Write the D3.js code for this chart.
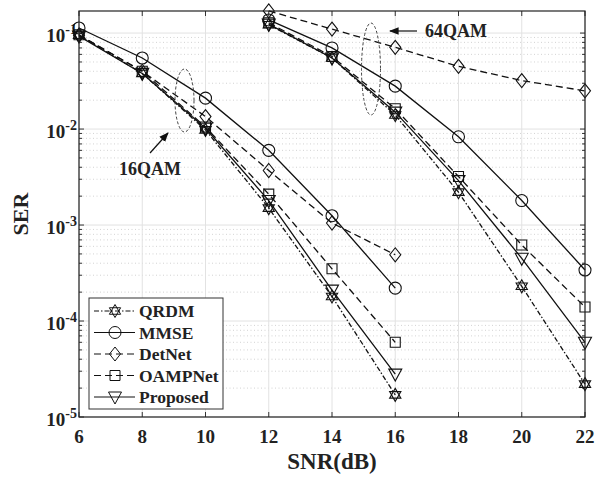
<!DOCTYPE html>
<html>
<head>
<meta charset="utf-8">
<script src="https://cdn.jsdelivr.net/npm/d3@7"></script>
<style>
  body { margin: 0; background: #fff; }
  text { font-family: "Liberation Serif", "Times New Roman", serif; font-weight: bold; fill: #222; }
</style>
</head>
<body>
<script>
// SNR points
const snr16 = [6, 8, 10, 12, 14, 16];
const snr64 = [12, 14, 16, 18, 20, 22];

// 16QAM SER
const qrdm16 = [0.095, 0.038, 0.0098, 0.0015, 1.8e-4, 1.7e-5];
const mmse16 = [0.113, 0.055, 0.021, 0.006, 0.00125, 2.2e-4];
const detnet16 = [0.095, 0.040, 0.0135, 0.0037, 0.00105, 4.9e-4];
const oamp16 = [0.096, 0.040, 0.0105, 0.0021, 3.5e-4, 6e-5];
const prop16 = [0.093, 0.038, 0.0102, 0.0018, 2.1e-4, 2.8e-5];

// 64QAM SER
const qrdm64 = [0.122, 0.055, 0.014, 0.0022, 2.3e-4, 2.2e-5];
const mmse64 = [0.137, 0.070, 0.028, 0.0083, 0.0018, 3.4e-4];
const detnet64 = [0.170, 0.110, 0.071, 0.045, 0.032, 0.025];
const oamp64 = [0.128, 0.057, 0.0163, 0.0032, 6.2e-4, 1.4e-4];
const prop64 = [0.124, 0.055, 0.0150, 0.0029, 4.5e-4, 6e-5];

const xTicks = [6, 8, 10, 12, 14, 16, 18, 20, 22];
const yDecades = [-1, -2, -3, -4, -5];
const names = ["QRDM", "MMSE", "DetNet", "OAMPNet", "Proposed"];

const width = 608, height = 477;
const pLeft = 79, pRight = 585, pTop = 11, pBottom = 417;

const x = d3.scaleLinear().domain([6, 22]).range([pLeft, pRight]);
const y = d3.scaleLog().domain([1e-5, Math.pow(10, -0.77)]).range([pBottom, pTop]);

const svg = d3.select("body").append("svg")
    .attr("width", width)
    .attr("height", height);

// grid
const grid = svg.append("g");
const minorVals = [];
for (let e = -5; e < 0; e++) {
    for (let m = 2; m <= 9; m++) {
        const v = m * Math.pow(10, e);
        if (v < y.domain()[1]) minorVals.push(v);
    }
}
grid.selectAll(".minor").data(minorVals).enter().append("line")
    .attr("x1", pLeft).attr("x2", pRight)
    .attr("y1", d => y(d)).attr("y2", d => y(d))
    .attr("stroke", "#c8c8c8").attr("stroke-width", 0.8)
    .attr("stroke-dasharray", "1,2.5");
grid.selectAll(".major").data(yDecades.map(e => Math.pow(10, e))).enter().append("line")
    .attr("x1", pLeft).attr("x2", pRight)
    .attr("y1", d => y(d)).attr("y2", d => y(d))
    .attr("stroke", "#e2e2e2").attr("stroke-width", 1);
grid.selectAll(".xg").data(xTicks).enter().append("line")
    .attr("x1", d => x(d)).attr("x2", d => x(d))
    .attr("y1", pTop).attr("y2", pBottom)
    .attr("stroke", "#e2e2e2").attr("stroke-width", 1);

// ticks (inward, all four sides)
const tk = svg.append("g").attr("stroke", "#333").attr("stroke-width", 1);
xTicks.forEach(t => {
    tk.append("line").attr("x1", x(t)).attr("x2", x(t)).attr("y1", pBottom).attr("y2", pBottom - 5);
    tk.append("line").attr("x1", x(t)).attr("x2", x(t)).attr("y1", pTop).attr("y2", pTop + 5);
});
yDecades.forEach(e => {
    const yy = y(Math.pow(10, e));
    tk.append("line").attr("x1", pLeft).attr("x2", pLeft + 5).attr("y1", yy).attr("y2", yy);
    tk.append("line").attr("x1", pRight).attr("x2", pRight - 5).attr("y1", yy).attr("y2", yy);
});
minorVals.forEach(v => {
    tk.append("line").attr("x1", pLeft).attr("x2", pLeft + 3).attr("y1", y(v)).attr("y2", y(v));
    tk.append("line").attr("x1", pRight).attr("x2", pRight - 3).attr("y1", y(v)).attr("y2", y(v));
});

// tick labels
svg.selectAll(".xl").data(xTicks).enter().append("text")
    .attr("x", d => x(d)).attr("y", 443)
    .attr("text-anchor", "middle").attr("font-size", 19)
    .text(d => d);
yDecades.forEach(e => {
    const t = svg.append("text")
        .attr("x", 77).attr("y", y(Math.pow(10, e)) + 9)
        .attr("text-anchor", "end").attr("font-size", 19);
    t.append("tspan").text("10");
    t.append("tspan").attr("dy", -8).attr("font-size", 14).text(e);
});

// axis titles
svg.append("text").attr("x", 332).attr("y", 469)
    .attr("text-anchor", "middle").attr("font-size", 23).text("SNR(dB)");
svg.append("text")
    .attr("transform", "translate(28,214) rotate(-90)")
    .attr("text-anchor", "middle").attr("font-size", 22).text("SER");

// series
const styles = [
    { dash: "5,2,1.5,2", marker: "hex" },
    { dash: null, marker: "circle" },
    { dash: "7,4", marker: "diamond" },
    { dash: "7,4", marker: "square" },
    { dash: null, marker: "tri" }
];
const series = [
    [qrdm16, qrdm64], [mmse16, mmse64], [detnet16, detnet64], [oamp16, oamp64], [prop16, prop64]
];

function markerPath(type, cx, cy) {
    const p = d3.path();
    if (type === "circle") {
        p.moveTo(cx + 6, cy); p.arc(cx, cy, 6, 0, 2 * Math.PI);
    } else if (type === "diamond") {
        p.moveTo(cx, cy - 7); p.lineTo(cx + 5.5, cy); p.lineTo(cx, cy + 7); p.lineTo(cx - 5.5, cy); p.closePath();
    } else if (type === "square") {
        p.rect(cx - 5, cy - 5, 10, 10);
    } else if (type === "tri") {
        p.moveTo(cx - 6.5, cy - 5); p.lineTo(cx + 6.5, cy - 5); p.lineTo(cx, cy + 7); p.closePath();
    } else if (type === "hex") {
        const r = 6.5;
        for (let k = 0; k < 2; k++) {
            for (let i = 0; i < 3; i++) {
                const a = -Math.PI / 2 + k * Math.PI + i * 2 * Math.PI / 3;
                const px = cx + r * Math.cos(a), py = cy + r * Math.sin(a);
                if (i === 0) p.moveTo(px, py); else p.lineTo(px, py);
            }
            p.closePath();
        }
    }
    return p.toString();
}

const line = d3.line().x(d => x(d[0])).y(d => y(d[1]));
const plot = svg.append("g");
series.forEach((pair, i) => {
    [[snr16, pair[0]], [snr64, pair[1]]].forEach(([xs, ys]) => {
        const pts = xs.map((s, j) => [s, ys[j]]);
        plot.append("path").datum(pts)
            .attr("d", line).attr("fill", "none")
            .attr("stroke", "#111").attr("stroke-width", 1.3)
            .attr("stroke-dasharray", styles[i].dash);
        plot.selectAll(null).data(pts).enter().append("path")
            .attr("d", d => markerPath(styles[i].marker, x(d[0]), y(d[1])))
            .attr("fill", "none").attr("stroke", "#111").attr("stroke-width", 1.1);
    });
});

// axes box
svg.append("rect").attr("x", pLeft).attr("y", pTop)
    .attr("width", pRight - pLeft).attr("height", pBottom - pTop)
    .attr("fill", "none").attr("stroke", "#222").attr("stroke-width", 1.2);

// annotations
svg.append("defs").append("marker")
    .attr("id", "ah").attr("viewBox", "0 0 10 10").attr("refX", 9).attr("refY", 5)
    .attr("markerWidth", 8).attr("markerHeight", 8).attr("orient", "auto")
    .append("path").attr("d", "M0,1 L10,5 L0,9 Z").attr("fill", "#111");

svg.append("ellipse").attr("cx", 184.5).attr("cy", 100.5).attr("rx", 9.5).attr("ry", 31.5)
    .attr("fill", "none").attr("stroke", "#444").attr("stroke-width", 1).attr("stroke-dasharray", "3,2");
svg.append("ellipse").attr("cx", 371).attr("cy", 69).attr("rx", 9.5).attr("ry", 46)
    .attr("fill", "none").attr("stroke", "#444").attr("stroke-width", 1).attr("stroke-dasharray", "3,2");

svg.append("line").attr("x1", 150).attr("y1", 153).attr("x2", 168).attr("y2", 133)
    .attr("stroke", "#111").attr("stroke-width", 1.2).attr("marker-end", "url(#ah)");
svg.append("text").attr("x", 150).attr("y", 175).attr("text-anchor", "middle")
    .attr("font-size", 18).text("16QAM");

svg.append("line").attr("x1", 417).attr("y1", 31).attr("x2", 390).attr("y2", 31)
    .attr("stroke", "#111").attr("stroke-width", 1.2).attr("marker-end", "url(#ah)");
svg.append("text").attr("x", 425).attr("y", 37).attr("font-size", 18).text("64QAM");

// legend
const lg = svg.append("g");
lg.append("rect").attr("x", 89).attr("y", 298).attr("width", 134).attr("height", 111)
    .attr("fill", "#fff").attr("stroke", "#333").attr("stroke-width", 1);
names.forEach((n, i) => {
    const cy = 311 + i * 21.5;
    lg.append("line").attr("x1", 94).attr("x2", 135).attr("y1", cy).attr("y2", cy)
        .attr("stroke", "#111").attr("stroke-width", 1.2)
        .attr("stroke-dasharray", styles[i].dash);
    lg.append("path").attr("d", markerPath(styles[i].marker, 115, cy))
        .attr("fill", "none").attr("stroke", "#111").attr("stroke-width", 1);
    lg.append("text").attr("x", 139).attr("y", cy + 6).attr("font-size", 17.5).text(n);
});
</script>
</body>
</html>
